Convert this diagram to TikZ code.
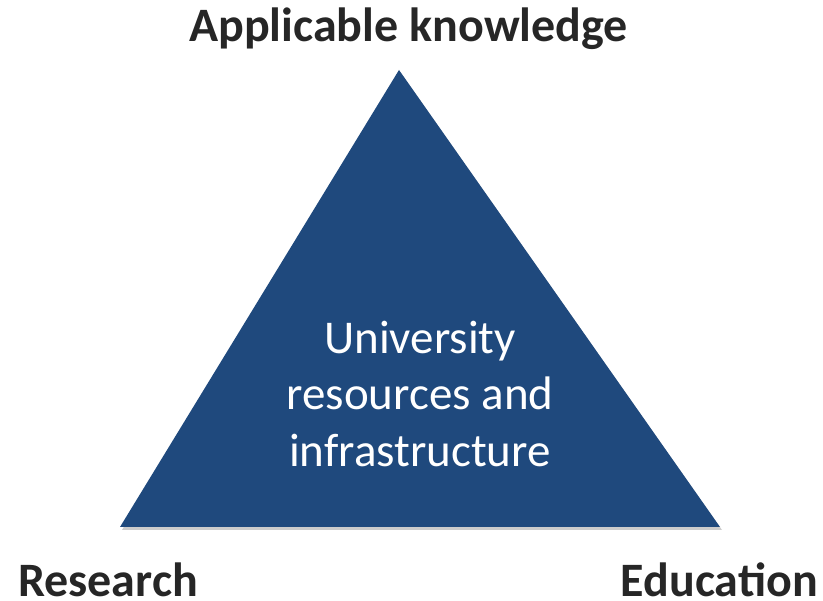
\documentclass[tikz,border=0pt]{standalone}
\usepackage{fontspec}
\setmainfont{Carlito}
\definecolor{triblue}{HTML}{1F497D}
\definecolor{labelgray}{HTML}{262626}
\begin{document}
\begin{tikzpicture}[x=1pt,y=1pt,
  corner/.style={text=labelgray,font=\fontsize{48}{52}\selectfont\bfseries,inner sep=0pt,anchor=base},
  inner/.style={text=white,font=\fontsize{47}{52}\selectfont,inner sep=0pt,anchor=base}]
\useasboundingbox (0,0) rectangle (823,601);
\coordinate (apex) at (399,531);
\coordinate (bl) at (120,74);
\coordinate (br) at (720,74);
\fill[black,opacity=0.2] ([shift={(2,-3)}]apex) -- ([shift={(2,-3)}]bl) -- ([shift={(2,-3)}]br) -- cycle;
\fill[triblue] (apex) -- (bl) -- (br) -- cycle;
\node[corner] (top) at (408.5,559) {Applicable knowledge};
\node[corner,anchor=base west] (res) at (18,4) {Research};
\node[corner,anchor=base east] (edu) at (818,4) {Education};
\node[inner] (l1) at (420,247) {University};
\node[inner] (l2) at (420,191) {resources and};
\node[inner] (l3) at (420,134) {infrastructure};
\end{tikzpicture}
\end{document}
